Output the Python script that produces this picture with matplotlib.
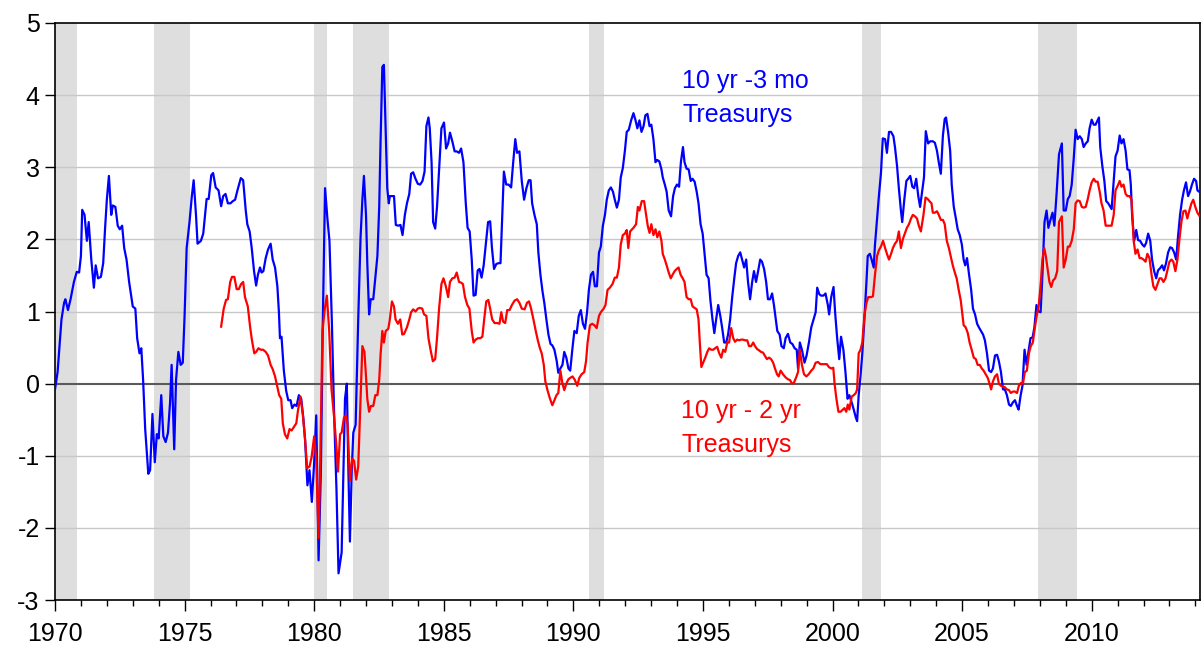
import matplotlib
matplotlib.use("Agg")
from matplotlib import pyplot as plt
from matplotlib.ticker import MultipleLocator

plt.rcParams['font.family'] = ['Liberation Sans', 'DejaVu Sans']
plt.rcParams['axes.unicode_minus'] = False

# 10 yr - 3 mo spread, decimal years
year_3m = [1970.0, 1970.1, 1970.25, 1970.35, 1970.4, 1970.5, 1970.6, 1970.73, 1970.84, 1970.93,
           1971.0, 1971.05, 1971.14, 1971.23, 1971.3, 1971.4, 1971.5, 1971.57, 1971.66, 1971.77,
           1971.86, 1971.93, 1972.0, 1972.08, 1972.17, 1972.23, 1972.33, 1972.42, 1972.5, 1972.59,
           1972.67, 1972.76, 1972.86, 1973.0, 1973.1, 1973.17, 1973.26, 1973.33, 1973.4, 1973.48,
           1973.6, 1973.67, 1973.76, 1973.85, 1973.93, 1974.0, 1974.1, 1974.18, 1974.27, 1974.36,
           1974.44, 1974.5, 1974.6, 1974.67, 1974.76, 1974.85, 1974.93, 1975.0, 1975.08, 1975.19,
           1975.28, 1975.35, 1975.44,
           1975.5, 1975.63, 1975.72, 1975.85, 1975.93, 1976.03, 1976.1, 1976.2, 1976.31, 1976.41,
           1976.49, 1976.58, 1976.67, 1976.77, 1976.86, 1976.95, 1977.04, 1977.17, 1977.26, 1977.36,
           1977.42, 1977.51, 1977.59, 1977.68, 1977.76, 1977.83, 1977.91, 1977.97, 1978.04, 1978.13,
           1978.22, 1978.32, 1978.4, 1978.49, 1978.58, 1978.64, 1978.68, 1978.74, 1978.83, 1978.92,
           1979.0, 1979.09, 1979.15, 1979.24, 1979.32, 1979.41, 1979.5, 1979.58, 1979.65, 1979.74,
           1979.82, 1979.91, 1980.0, 1980.08, 1980.17, 1980.26, 1980.33, 1980.42, 1980.51, 1980.59,
           1980.68, 1980.77, 1980.86, 1980.94,
           1981.06, 1981.13, 1981.19, 1981.26, 1981.32, 1981.38, 1981.45, 1981.51, 1981.6, 1981.7,
           1981.79, 1981.86, 1981.92, 1982.0, 1982.05, 1982.12, 1982.18, 1982.28, 1982.37, 1982.44,
           1982.51, 1982.56, 1982.63, 1982.69, 1982.76, 1982.82, 1982.88, 1982.92, 1983.0, 1983.08,
           1983.15, 1983.24, 1983.33, 1983.41, 1983.5, 1983.58, 1983.67, 1983.74, 1983.82, 1983.91,
           1984.0, 1984.09, 1984.18, 1984.26, 1984.33, 1984.41, 1984.46, 1984.53, 1984.59, 1984.67,
           1984.74, 1984.82, 1984.91, 1985.01, 1985.09, 1985.17, 1985.24, 1985.33, 1985.42, 1985.5,
           1985.59, 1985.67, 1985.76, 1985.85, 1985.92, 1986.0, 1986.08, 1986.15, 1986.23, 1986.31,
           1986.38, 1986.46, 1986.54,
           1986.71, 1986.79, 1986.86, 1986.94, 1987.03, 1987.12, 1987.19, 1987.26, 1987.32, 1987.41,
           1987.5, 1987.6, 1987.68, 1987.76, 1987.83, 1987.92, 1988.01, 1988.1, 1988.19, 1988.28,
           1988.35, 1988.41, 1988.5, 1988.59, 1988.65, 1988.73, 1988.81, 1988.88, 1988.96, 1989.04,
           1989.12, 1989.19, 1989.27, 1989.36, 1989.42, 1989.5, 1989.58, 1989.65, 1989.73, 1989.81,
           1989.88, 1989.96, 1990.04, 1990.13, 1990.21, 1990.29, 1990.37, 1990.45, 1990.53, 1990.6,
           1990.68, 1990.76, 1990.83, 1990.91, 1990.99, 1991.06, 1991.14, 1991.22, 1991.29, 1991.37,
           1991.45, 1991.53, 1991.6, 1991.68, 1991.76, 1991.83, 1991.91, 1991.99, 1992.06, 1992.14,
           1992.23, 1992.32, 1992.4, 1992.47, 1992.55, 1992.63, 1992.71, 1992.78, 1992.86, 1992.94,
           1993.01, 1993.09, 1993.17, 1993.24, 1993.32, 1993.4, 1993.45, 1993.53, 1993.6, 1993.68,
           1993.77, 1993.85, 1993.92, 1994.0, 1994.08, 1994.15, 1994.23, 1994.29, 1994.37, 1994.45,
           1994.53, 1994.6, 1994.68, 1994.76, 1994.83, 1994.91, 1994.99, 1995.06, 1995.14, 1995.22,
           1995.29, 1995.37, 1995.44, 1995.51, 1995.59, 1995.67, 1995.74, 1995.82, 1995.9, 1995.97,
           1996.05, 1996.13, 1996.21, 1996.28, 1996.36, 1996.44, 1996.51, 1996.59, 1996.67, 1996.74,
           1996.82, 1996.9, 1996.97, 1997.05, 1997.13, 1997.21, 1997.28, 1997.36, 1997.44, 1997.51,
           1997.59, 1997.67, 1997.74,
           1997.87, 1997.96, 1998.03, 1998.12, 1998.19, 1998.28, 1998.37, 1998.45, 1998.54, 1998.62,
           1998.67, 1998.74, 1998.82, 1998.92, 1999.0, 1999.09, 1999.18, 1999.27, 1999.35, 1999.41,
           1999.49, 1999.56, 1999.65, 1999.73, 1999.82, 1999.87, 1999.95, 2000.04, 2000.1, 2000.18,
           2000.26, 2000.33, 2000.42, 2000.5, 2000.58, 2000.65, 2000.74, 2000.82, 2000.9, 2000.95,
           2001.01, 2001.08, 2001.15, 2001.23, 2001.31, 2001.36, 2001.44, 2001.51, 2001.59, 2001.64,
           2001.72, 2001.79, 2001.87, 2001.94, 2002.03, 2002.1, 2002.18, 2002.26, 2002.35, 2002.41,
           2002.49, 2002.56, 2002.64, 2002.69, 2002.77, 2002.85, 2002.92, 2003.0, 2003.08, 2003.15,
           2003.23, 2003.31, 2003.38,
           2003.53, 2003.6, 2003.69, 2003.77, 2003.87, 2003.95, 2004.03, 2004.1, 2004.18, 2004.26,
           2004.33, 2004.38, 2004.46, 2004.54, 2004.6, 2004.68, 2004.76, 2004.83, 2004.91, 2004.99,
           2005.06, 2005.12, 2005.19, 2005.27, 2005.35, 2005.42, 2005.5, 2005.58, 2005.65, 2005.73,
           2005.81, 2005.88, 2005.96, 2006.04, 2006.12, 2006.19, 2006.27, 2006.35, 2006.42, 2006.5,
           2006.58, 2006.65, 2006.73, 2006.81, 2006.88, 2006.96, 2007.04, 2007.12, 2007.18, 2007.26,
           2007.33, 2007.41, 2007.49, 2007.56, 2007.64, 2007.72, 2007.79, 2007.87, 2007.95, 2008.03,
           2008.1, 2008.18, 2008.26, 2008.33, 2008.41, 2008.49, 2008.56, 2008.64,
           2008.74, 2008.85, 2008.92, 2009.0, 2009.08, 2009.15, 2009.23, 2009.31, 2009.38, 2009.46,
           2009.54, 2009.62, 2009.69, 2009.77, 2009.85, 2009.92, 2010.0, 2010.08, 2010.15, 2010.23,
           2010.28, 2010.33, 2010.41, 2010.49, 2010.56, 2010.64, 2010.72, 2010.77, 2010.85, 2010.92,
           2011.0, 2011.08, 2011.15, 2011.23, 2011.31, 2011.38, 2011.46, 2011.51, 2011.56, 2011.64,
           2011.72, 2011.79, 2011.87, 2011.95, 2012.03, 2012.1, 2012.18, 2012.26, 2012.33, 2012.41,
           2012.49, 2012.56, 2012.64, 2012.72, 2012.79, 2012.87, 2012.95, 2013.03, 2013.1, 2013.18,
           2013.26, 2013.33, 2013.41, 2013.49, 2013.56, 2013.64, 2013.72, 2013.79, 2013.87, 2013.95,
           2014.03, 2014.08, 2014.15]
spread_3m = [-0.08, 0.16, 0.89, 1.12, 1.17, 1.02, 1.17, 1.41, 1.55, 1.54,
             1.77, 2.41, 2.34, 1.98, 2.24, 1.72, 1.33, 1.64, 1.46, 1.48,
             1.67, 2.14, 2.55, 2.88, 2.34, 2.47, 2.45, 2.19, 2.14, 2.19,
             1.88, 1.72, 1.41, 1.07, 1.04, 0.63, 0.42, 0.49, 0.05, -0.63,
             -1.25, -1.2, -0.42, -1.09, -0.70, -0.76, -0.16, -0.73, -0.81, -0.68,
             -0.26, 0.26, -0.91, 0.05, 0.44, 0.26, 0.29, 0.94, 1.88, 2.24,
             2.6, 2.82, 2.34,
             1.94, 1.98, 2.08, 2.56, 2.56, 2.89, 2.92, 2.72, 2.68, 2.46,
             2.6, 2.63, 2.5, 2.5, 2.53, 2.55, 2.68, 2.85, 2.82, 2.4,
             2.21, 2.11, 1.88, 1.56, 1.36, 1.51, 1.61, 1.54, 1.56, 1.74,
             1.86, 1.94, 1.72, 1.61, 1.35, 0.99, 0.63, 0.65, 0.18, -0.1,
             -0.23, -0.23, -0.34, -0.29, -0.31, -0.16, -0.21, -0.47, -0.78, -1.41,
             -1.2, -1.64, -1.09, -0.44, -2.45, -1.2, 0.78, 2.71, 2.29, 1.98,
             0.89, -0.42, -1.46, -2.63,
             -2.34, -1.2, -0.21, 0.0, -1.2, -2.19, -1.2, -0.68, -0.57, 0.89,
             2.03, 2.55, 2.88, 2.34, 1.67, 0.96, 1.17, 1.17, 1.51, 1.77,
             2.45, 3.33, 4.39, 4.42, 3.49, 2.71, 2.5, 2.6, 2.6, 2.6,
             2.2, 2.19, 2.2, 2.06, 2.34, 2.5, 2.63, 2.91, 2.93, 2.84,
             2.77, 2.76, 2.81, 2.94, 3.57, 3.69, 3.54, 3.07, 2.24, 2.15,
             2.45, 2.97, 3.54, 3.62, 3.26, 3.33, 3.48, 3.36, 3.22, 3.22,
             3.2, 3.26, 3.07, 2.5, 2.16, 2.11, 1.72, 1.22, 1.23, 1.57,
             1.59, 1.47, 1.64,
             2.24, 2.25, 1.88, 1.59, 1.66, 1.67, 1.67, 2.34, 2.94, 2.76,
             2.76, 2.72, 3.07, 3.39, 3.2, 3.22, 2.81, 2.55, 2.71, 2.82,
             2.82, 2.5, 2.34, 2.21, 1.82, 1.51, 1.28, 1.12, 0.89, 0.68,
             0.55, 0.53, 0.47, 0.31, 0.15, 0.21, 0.26, 0.44, 0.36, 0.21,
             0.18, 0.47, 0.73, 0.7, 0.94, 1.02, 0.83, 0.76, 0.99, 1.3,
             1.51, 1.55, 1.35, 1.35, 1.82, 1.9, 2.19, 2.34, 2.55, 2.68,
             2.72, 2.66, 2.55, 2.44, 2.55, 2.86, 2.99, 3.23, 3.49, 3.52,
             3.65, 3.75, 3.65, 3.54, 3.65, 3.49, 3.57, 3.72, 3.74, 3.57,
             3.59, 3.39, 3.07, 3.1, 3.08, 2.97, 2.86, 2.76, 2.66, 2.4,
             2.32, 2.6, 2.71, 2.76, 2.73, 3.07, 3.28, 3.07, 2.98, 2.97,
             2.81, 2.84, 2.8, 2.66, 2.5, 2.21, 2.08, 1.82, 1.51, 1.46,
             1.15, 0.89, 0.7, 0.89, 1.09, 0.94, 0.78, 0.57, 0.57, 0.68,
             0.89, 1.2, 1.46, 1.67, 1.77, 1.82, 1.72, 1.61, 1.72, 1.41,
             1.17, 1.41, 1.56, 1.41, 1.56, 1.72, 1.69, 1.59, 1.41, 1.17,
             1.17, 1.25, 1.09,
             0.73, 0.68, 0.52, 0.49, 0.63, 0.69, 0.57, 0.55, 0.49, 0.47,
             0.21, 0.57, 0.47, 0.29, 0.39, 0.57, 0.78, 0.89, 0.99, 1.33,
             1.24, 1.22, 1.22, 1.25, 1.09, 0.96, 1.2, 1.34, 0.99, 0.63,
             0.34, 0.65, 0.47, 0.16, -0.21, -0.16, -0.26, -0.36, -0.47, -0.52,
             -0.16, 0.1, 0.42, 0.89, 1.41, 1.77, 1.8, 1.72, 1.61, 1.93,
             2.29, 2.6, 2.92, 3.4, 3.39, 3.2, 3.49, 3.49, 3.43, 3.28,
             3.02, 2.71, 2.4, 2.24, 2.55, 2.81, 2.84, 2.88, 2.73, 2.71,
             2.84, 2.6, 2.45,
             2.86, 3.5, 3.33, 3.36, 3.36, 3.34, 3.23, 3.07, 2.91, 3.44,
             3.67, 3.69, 3.49, 3.23, 2.76, 2.45, 2.29, 2.14, 2.06, 1.93,
             1.72, 1.64, 1.74, 1.51, 1.3, 1.04, 0.96, 0.83, 0.78, 0.73,
             0.68, 0.6, 0.42, 0.18, 0.16, 0.21, 0.39, 0.4, 0.31, 0.16,
             -0.08, -0.08, -0.16, -0.29, -0.31, -0.26, -0.23, -0.31, -0.36, -0.16,
             -0.03, 0.47, 0.26, 0.44, 0.63, 0.64, 0.78, 1.09, 1.0, 0.99,
             1.51, 2.24, 2.4, 2.16, 2.27, 2.37, 2.19, 2.6,
             3.18, 3.33, 2.4, 2.4, 2.56, 2.6, 2.76, 3.13, 3.52, 3.39,
             3.43, 3.39, 3.28, 3.33, 3.36, 3.54, 3.66, 3.59, 3.59, 3.65,
             3.69, 3.28, 3.02, 2.81, 2.53, 2.5, 2.45, 2.42, 2.81, 3.15,
             3.23, 3.44, 3.33, 3.39, 3.23, 2.97, 2.96, 2.76, 2.34, 1.98,
             2.13, 1.99, 1.98, 1.93, 1.9, 1.95, 2.08, 1.98, 1.72, 1.56,
             1.46, 1.57, 1.6, 1.64, 1.57, 1.67, 1.82, 1.89, 1.88, 1.82,
             1.72, 2.03, 2.34, 2.55, 2.68, 2.79, 2.6, 2.66, 2.76, 2.84,
             2.81, 2.68, 2.66]

# 10 yr - 2 yr spread, starts mid 1976
year_2y = [1976.41, 1976.51, 1976.6, 1976.67, 1976.76, 1976.83, 1976.92, 1977.01, 1977.09, 1977.18,
           1977.26, 1977.33, 1977.44, 1977.53, 1977.6, 1977.69, 1977.76, 1977.85, 1977.94, 1978.03,
           1978.13, 1978.22, 1978.32, 1978.4, 1978.49, 1978.58, 1978.65, 1978.73, 1978.79, 1978.87,
           1978.96, 1979.05, 1979.13, 1979.22, 1979.31, 1979.38, 1979.47, 1979.56, 1979.65, 1979.73,
           1979.82, 1979.9, 1980.0, 1980.08, 1980.17, 1980.24, 1980.32, 1980.41, 1980.49, 1980.58,
           1980.67, 1980.77, 1980.85, 1980.92,
           1981.0, 1981.06, 1981.15, 1981.23, 1981.29, 1981.38, 1981.47, 1981.54, 1981.62, 1981.7,
           1981.77, 1981.86, 1981.94, 1982.0, 1982.05, 1982.12, 1982.19, 1982.28, 1982.36, 1982.44,
           1982.51, 1982.56, 1982.63, 1982.69, 1982.76, 1982.86, 1982.92, 1983.0, 1983.08, 1983.14,
           1983.23, 1983.32, 1983.4, 1983.47, 1983.58, 1983.67, 1983.74, 1983.82, 1983.91, 1984.0,
           1984.08, 1984.17, 1984.24, 1984.33, 1984.41, 1984.49, 1984.58, 1984.67, 1984.74, 1984.82,
           1984.91, 1984.99, 1985.08, 1985.17, 1985.24, 1985.33, 1985.42, 1985.5, 1985.59, 1985.67,
           1985.74, 1985.82, 1985.91, 1985.99, 1986.08, 1986.15, 1986.23, 1986.32, 1986.41, 1986.49,
           1986.56, 1986.64, 1986.72,
           1986.79, 1986.87, 1986.96, 1987.06, 1987.15, 1987.22, 1987.29, 1987.37, 1987.45, 1987.54,
           1987.63, 1987.73, 1987.83, 1987.92, 1988.01, 1988.12, 1988.21, 1988.29, 1988.37, 1988.46,
           1988.55, 1988.63, 1988.71, 1988.78, 1988.86, 1988.92, 1989.01, 1989.1, 1989.19, 1989.27,
           1989.35, 1989.42, 1989.5, 1989.58, 1989.65, 1989.73, 1989.81, 1989.88, 1989.97, 1990.06,
           1990.15, 1990.23, 1990.32, 1990.42, 1990.49, 1990.55, 1990.64, 1990.73, 1990.81, 1990.9,
           1990.99, 1991.06, 1991.17, 1991.24, 1991.32, 1991.41, 1991.51, 1991.6, 1991.68, 1991.76,
           1991.83, 1991.91, 1991.99, 1992.06, 1992.12, 1992.19,
           1992.32, 1992.42, 1992.49, 1992.55, 1992.64, 1992.73, 1992.81, 1992.87, 1992.94, 1993.01,
           1993.09, 1993.17, 1993.24, 1993.32, 1993.4, 1993.45, 1993.53, 1993.6, 1993.68, 1993.76,
           1993.83, 1993.91, 1993.99, 1994.06, 1994.14, 1994.22, 1994.29, 1994.37, 1994.45, 1994.53,
           1994.6, 1994.68, 1994.76, 1994.83, 1994.88, 1994.94, 1995.01, 1995.09, 1995.17, 1995.24,
           1995.32, 1995.4, 1995.47, 1995.55, 1995.63, 1995.71, 1995.78, 1995.86, 1995.94, 1996.01,
           1996.09, 1996.17, 1996.24, 1996.32, 1996.4, 1996.47, 1996.55, 1996.63, 1996.71, 1996.78,
           1996.86, 1996.94, 1997.01, 1997.09, 1997.17, 1997.24, 1997.32, 1997.4, 1997.47, 1997.55,
           1997.63, 1997.71, 1997.78, 1997.86,
           1997.92, 1998.0, 1998.09, 1998.18, 1998.28, 1998.36, 1998.44, 1998.51, 1998.59, 1998.67,
           1998.74, 1998.82, 1998.9, 1998.99, 1999.08, 1999.18, 1999.26, 1999.35, 1999.44, 1999.53,
           1999.62, 1999.69, 1999.78, 1999.86, 1999.95, 2000.03, 2000.08, 2000.15, 2000.23, 2000.31,
           2000.4, 2000.46, 2000.53, 2000.59, 2000.65, 2000.74, 2000.82, 2000.9, 2000.95, 2001.01,
           2001.08, 2001.15, 2001.23, 2001.31, 2001.38, 2001.49, 2001.56, 2001.64, 2001.72, 2001.79,
           2001.87, 2001.95, 2002.03, 2002.1, 2002.18, 2002.26, 2002.33, 2002.41, 2002.49, 2002.56,
           2002.64, 2002.72, 2002.79, 2002.87, 2002.95, 2003.03, 2003.1, 2003.18, 2003.26, 2003.33,
           2003.41,
           2003.51, 2003.59, 2003.67, 2003.74, 2003.82, 2003.87, 2003.95, 2004.03, 2004.1, 2004.18,
           2004.26, 2004.33, 2004.41, 2004.49, 2004.56, 2004.64, 2004.72, 2004.79, 2004.87, 2004.95,
           2005.0, 2005.06, 2005.14, 2005.22, 2005.29, 2005.37, 2005.45, 2005.53, 2005.6, 2005.68,
           2005.76, 2005.83, 2005.91, 2005.99, 2006.06, 2006.12, 2006.19, 2006.27, 2006.35, 2006.42,
           2006.5, 2006.58, 2006.65, 2006.73, 2006.81, 2006.88, 2006.96, 2007.04, 2007.12, 2007.19,
           2007.27, 2007.35, 2007.42, 2007.5, 2007.58, 2007.65, 2007.73, 2007.81, 2007.88, 2007.96,
           2008.04, 2008.1, 2008.17, 2008.23, 2008.31, 2008.37, 2008.44, 2008.51, 2008.59, 2008.67,
           2008.74, 2008.85, 2008.92, 2009.0, 2009.08, 2009.15, 2009.23, 2009.31, 2009.38, 2009.46,
           2009.54, 2009.62, 2009.69, 2009.77, 2009.85, 2009.92, 2010.0, 2010.08, 2010.15, 2010.23,
           2010.31, 2010.38, 2010.46, 2010.54, 2010.62, 2010.69, 2010.77, 2010.85, 2010.92, 2011.0,
           2011.08, 2011.15, 2011.23, 2011.31, 2011.38, 2011.46, 2011.54, 2011.62, 2011.69, 2011.77,
           2011.85, 2011.92, 2012.0, 2012.08, 2012.15, 2012.23, 2012.31, 2012.38, 2012.46, 2012.54,
           2012.62, 2012.69, 2012.77, 2012.85, 2012.92, 2013.0, 2013.08, 2013.15, 2013.23, 2013.31,
           2013.38, 2013.46, 2013.54, 2013.62, 2013.69, 2013.77, 2013.85, 2013.92, 2014.0, 2014.08,
           2014.15]
spread_2y = [0.79, 1.04, 1.16, 1.17, 1.41, 1.48, 1.48, 1.31, 1.31, 1.38,
             1.41, 1.2, 1.07, 0.78, 0.6, 0.42, 0.44, 0.49, 0.47, 0.47,
             0.44, 0.39, 0.26, 0.2, 0.1, -0.05, -0.16, -0.21, -0.55, -0.7,
             -0.76, -0.63, -0.65, -0.6, -0.55, -0.36, -0.18, -0.42, -0.78, -1.17,
             -1.15, -1.02, -0.73, -1.04, -2.14, -0.99, 0.73, 1.04, 1.22, 0.73,
             -0.08, -0.47, -0.83, -1.22,
             -0.7, -0.68, -0.47, -0.44, -0.57, -1.35, -1.04, -1.07, -1.33, -1.15,
             -0.42, 0.52, 0.44, 0.1, -0.21, -0.39, -0.31, -0.31, -0.16, -0.16,
             0.05, 0.39, 0.73, 0.57, 0.73, 0.76, 0.89, 1.14, 1.07, 0.89,
             0.83, 0.89, 0.68, 0.69, 0.78, 0.89, 0.99, 1.03, 1.0, 1.04,
             1.05, 1.04, 0.96, 0.94, 0.63, 0.47, 0.31, 0.34, 0.63, 1.04,
             1.38, 1.46, 1.35, 1.2, 1.41, 1.46, 1.47, 1.54, 1.41, 1.4,
             1.38, 1.2, 1.09, 1.04, 0.73, 0.57, 0.61, 0.63, 0.63, 0.65,
             0.89, 1.14, 1.16,
             1.04, 0.89, 0.84, 0.84, 0.83, 0.99, 0.86, 0.84, 1.02, 1.02,
             1.09, 1.15, 1.17, 1.12, 1.04, 1.03, 1.12, 1.14, 1.04, 0.89,
             0.73, 0.6, 0.49, 0.42, 0.26, 0.03, -0.1, -0.21, -0.3, -0.23,
             -0.16, -0.13, 0.18, 0.0, -0.09, 0.0, 0.06, 0.08, 0.1, 0.05,
             -0.03, 0.08, 0.13, 0.16, 0.31, 0.57, 0.81, 0.83, 0.81, 0.77,
             0.94, 0.99, 1.04, 1.09, 1.3, 1.33, 1.38, 1.47, 1.47, 1.61,
             1.93, 2.06, 2.08, 2.13, 1.88, 2.11,
             2.16, 2.21, 2.45, 2.4, 2.53, 2.53, 2.34, 2.19, 2.09, 2.21,
             2.06, 2.14, 2.03, 2.11, 1.98, 1.8, 1.72, 1.64, 1.54, 1.46,
             1.51, 1.56, 1.59, 1.61, 1.51, 1.46, 1.41, 1.2, 1.17, 1.17,
             1.07, 1.05, 1.03, 0.89, 0.57, 0.23, 0.29, 0.36, 0.44, 0.49,
             0.47, 0.47, 0.49, 0.51, 0.42, 0.36, 0.47, 0.44, 0.57, 0.57,
             0.77, 0.63, 0.58, 0.61, 0.6, 0.61, 0.61, 0.6, 0.6, 0.52,
             0.52, 0.57, 0.52, 0.48, 0.46, 0.44, 0.43, 0.38, 0.34, 0.36,
             0.34, 0.29, 0.21, 0.13,
             0.1, 0.18, 0.13, 0.09, 0.06, 0.05, 0.0, 0.01, 0.08, 0.16,
             0.47, 0.26, 0.13, 0.1, 0.13, 0.18, 0.21, 0.29, 0.3, 0.27,
             0.27, 0.27, 0.27, 0.23, 0.21, 0.22, 0.0, -0.21, -0.39, -0.39,
             -0.36, -0.34, -0.39, -0.29, -0.36, -0.18, -0.16, -0.13, -0.08, 0.42,
             0.47, 0.57, 0.94, 1.12, 1.2, 1.2, 1.21, 1.51, 1.77, 1.85,
             1.9, 1.98, 1.88, 1.8, 1.72, 1.8, 1.88, 1.94, 1.98, 2.11,
             1.88, 2.01, 2.08, 2.16, 2.21, 2.29, 2.34, 2.32, 2.29, 2.19,
             2.11,
             2.34, 2.58, 2.56, 2.53, 2.5, 2.37, 2.37, 2.39, 2.34, 2.27,
             2.27, 2.21, 1.98, 1.88, 1.77, 1.64, 1.54, 1.46, 1.3, 1.15,
             0.99, 0.81, 0.78, 0.7, 0.57, 0.47, 0.36, 0.34, 0.26, 0.26,
             0.21, 0.18, 0.13, 0.08, 0.0, -0.08, 0.03, 0.1, 0.13, 0.0,
             -0.03, -0.04, -0.05, -0.08, -0.09, -0.13, -0.11, -0.11, -0.13, -0.03,
             0.01, 0.0, 0.16, 0.18, 0.42, 0.52, 0.57, 0.78, 0.94, 1.09,
             1.41, 1.72, 1.88, 1.77, 1.56, 1.41, 1.34, 1.43, 1.46, 1.56,
             2.24, 2.32, 1.61, 1.72, 1.9, 1.9, 1.98, 2.14, 2.5, 2.54,
             2.53, 2.45, 2.44, 2.45, 2.56, 2.68, 2.79, 2.84, 2.8, 2.8,
             2.66, 2.5, 2.4, 2.19, 2.19, 2.19, 2.19, 2.34, 2.68, 2.74,
             2.81, 2.73, 2.76, 2.63, 2.6, 2.6, 2.55, 1.98, 1.8, 1.86,
             1.74, 1.74, 1.72, 1.69, 1.8, 1.74, 1.51, 1.35, 1.3, 1.38,
             1.46, 1.46, 1.41, 1.46, 1.57, 1.69, 1.72, 1.69, 1.56, 1.72,
             1.98, 2.24, 2.39, 2.4, 2.29, 2.4, 2.5, 2.55, 2.45, 2.37,
             2.33]

# NBER recessions (start, end)
rec_start = [1969.92, 1973.83, 1980.0, 1981.51, 1990.59, 2001.15, 2007.91]
rec_end = [1970.84, 1975.19, 1980.5, 1982.88, 1991.19, 2001.87, 2009.42]

fig = plt.figure(figsize=(12.01, 6.49), dpi=100, facecolor="w")
ax = fig.add_axes([55/1201, 1 - 600/649, 1145/1201, 577/649])

for a, b in zip(rec_start, rec_end):
    ax.axvspan(a, b, color="#dedede", lw=0, zorder=0)

for v in range(-2, 5):
    if v == 0:
        ax.axhline(v, color="#5a5a5a", lw=1.5, zorder=1)
    else:
        ax.axhline(v, color="#c8c8c8", lw=1.0, zorder=1)

ax.plot(year_3m, spread_3m, "-", color="#0000ff", lw=1.6, zorder=3)
ax.plot(year_2y, spread_2y, "-", color="#ff0000", lw=1.6, zorder=4)

ax.text(1994.2, 4.19, "10 yr -3 mo", color="#0000ff", fontsize=18, va="center", ha="left")
ax.text(1994.2, 3.73, "Treasurys", color="#0000ff", fontsize=18, va="center", ha="left")
ax.text(1994.17, -0.38, "10 yr - 2 yr", color="#ff0000", fontsize=18, va="center", ha="left")
ax.text(1994.17, -0.85, "Treasurys", color="#ff0000", fontsize=18, va="center", ha="left")

ax.set_xlim(1970, 2014.18)
ax.set_ylim(-3, 5)
ax.set_xticks(range(1970, 2015, 5))
ax.xaxis.set_minor_locator(MultipleLocator(1))
ax.set_yticks(range(-3, 6))
ax.tick_params(axis="x", which="major", direction="out", length=8, width=1, labelsize=18, pad=8)
ax.tick_params(axis="x", which="minor", direction="out", length=4.5, width=1)
ax.tick_params(axis="y", direction="out", length=7, width=1, labelsize=18, pad=4)
for s in ax.spines.values():
    s.set_linewidth(1.2)

plt.savefig("out.png", dpi=100, facecolor="w")
